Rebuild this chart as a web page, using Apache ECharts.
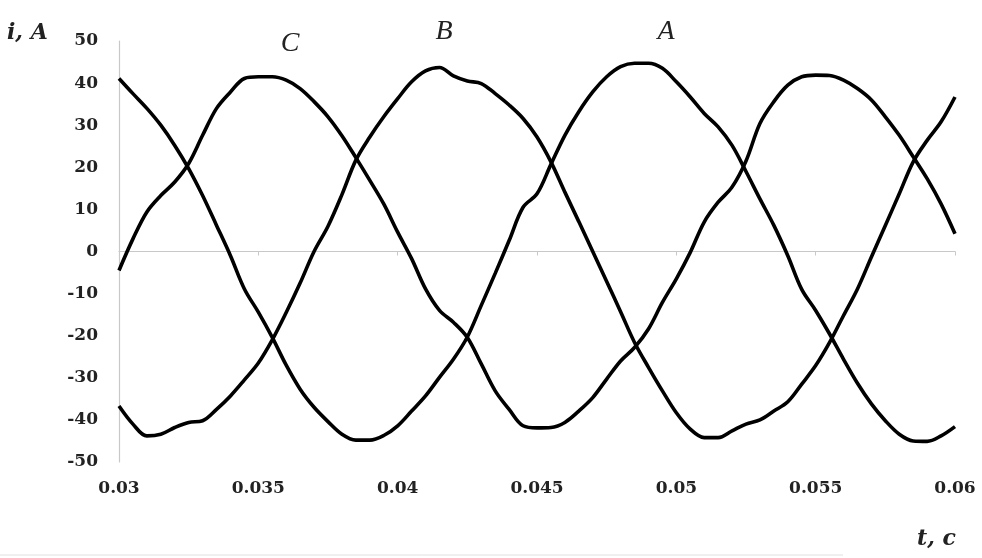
<!DOCTYPE html>
<html>
<head>
<meta charset="utf-8">
<script src="https://cdn.jsdelivr.net/npm/echarts@6/dist/echarts.min.js"></script>
<style>
html,body{margin:0;padding:0;background:#fff;}
#chart{width:982px;height:558px;}
</style>
</head>
<body>
<div id="chart"></div>
<script>
// time, s
var times = [0.0300,0.0305,0.0310,0.0315,0.0320,0.0325,0.0330,0.0335,0.0340,0.0345,
0.0350,0.0355,0.0360,0.0365,0.0370,0.0375,0.0380,0.0385,0.0390,0.0395,
0.0400,0.0405,0.0410,0.0415,0.0420,0.0425,0.0430,0.0435,0.0440,0.0445,
0.0450,0.0455,0.0460,0.0465,0.0470,0.0475,0.0480,0.0485,0.0490,0.0495,
0.0500,0.0505,0.0510,0.0515,0.0520,0.0525,0.0530,0.0535,0.0540,0.0545,
0.0550,0.0555,0.0560,0.0565,0.0570,0.0575,0.0580,0.0585,0.0590,0.0595,0.0600];

var currentA = [41.1,37.5,34,30,25.2,19.7,13.3,6.2,-1,-8.9,
-14.4,-20.4,-27,-32.7,-37,-40.4,-43.4,-44.8,-44.8,-43.7,
-41.4,-37.9,-34.3,-29.9,-25.6,-20.3,-12.8,-5.2,2.6,10.5,
13.7,20.7,27.6,33.2,37.9,41.5,43.9,44.7,44.7,43.5,
40.3,36.7,32.8,29.6,25.2,19,12.5,6.2,-1,-9,
-14,-19.6,-25.6,-31.3,-36.2,-40.2,-43.4,-45,-45.1,-43.8,-41.6];

var currentB = [-36.7,-41,-43.8,-43.4,-41.8,-40.6,-40.2,-37.5,-34.3,-30.5,
-26.5,-21,-14.5,-7.5,0,6,13.5,21.7,27.2,32,
36.3,40.3,42.9,43.7,41.7,40.5,39.9,37.5,34.8,31.6,
27.2,21.3,14.1,7.1,0,-7.1,-14.3,-21.6,-27.5,-33.1,
-38.3,-42.2,-44.2,-44.2,-42.6,-41,-40,-37.9,-35.7,-31.5,
-27.1,-21.6,-15.2,-8.9,-1.3,6.2,13.7,21.3,26.4,30.8,36.7];

var currentC = [-4.5,3,9.4,13.3,16.5,20.9,27.6,34,37.9,41.1,
41.5,41.5,40.7,38.7,35.6,32,27.5,22.3,16.9,11.3,
4.6,-1.7,-8.9,-14,-16.8,-20.4,-26.7,-33.1,-37.5,-41.4,
-41.9,-41.8,-40.6,-37.9,-34.7,-30.3,-26,-22.8,-18.4,-12.1,
-6.5,-0.2,7,11.7,15.3,21.5,30.4,35.6,39.5,41.5,
41.9,41.8,40.7,38.7,36,32,27.6,22.5,17.3,11.3,4.2];

var seriesNames = ['A', 'B', 'C'];
var yTicks = [-50,-40,-30,-20,-10,0,10,20,30,40,50];
var xTicks = [0.03,0.035,0.04,0.045,0.05,0.055,0.06];
var yAxisTitle = 'i, A';
var xAxisTitle = 't, c';

function pairs(vals){ return times.map(function(t,i){ return [t, vals[i]]; }); }

var chart = echarts.init(document.getElementById('chart'), null, {renderer:'canvas'});
var tickFont = '"DejaVu Serif", "Liberation Serif", serif';
var serif = '"Liberation Serif", "DejaVu Serif", serif';
var lineStyle = {color:'#000', width:3.6};

function mkSeries(name, vals){
  return {name:name, type:'line', data:pairs(vals), showSymbol:false, smooth:0.35,
    lineStyle:lineStyle, itemStyle:{color:'#000'}, animation:false, z:3};
}

chart.setOption({
  backgroundColor:'#fff',
  animation:false,
  grid:{left:119, right:27, top:41, bottom:96, containLabel:false},
  xAxis:[{
    type:'value', min:xTicks[0], max:xTicks[xTicks.length-1], interval:0.005, position:'bottom',
    axisLine:{show:true, onZero:true, lineStyle:{color:'#c8c8c8', width:1.2}},
    axisTick:{show:true, length:4, lineStyle:{color:'#c8c8c8'}},
    axisLabel:{show:false}, splitLine:{show:false}
  },{
    type:'value', min:xTicks[0], max:xTicks[xTicks.length-1], interval:0.005, position:'bottom',
    axisLine:{show:false, onZero:false}, axisTick:{show:false}, splitLine:{show:false},
    axisLabel:{show:true, margin:18, fontFamily:tickFont, fontWeight:'bold', fontSize:17, color:'#222',
      formatter:function(v){ return String(+v.toFixed(3)); }}
  }],
  yAxis:{
    type:'value', min:yTicks[0], max:yTicks[yTicks.length-1], interval:10,
    axisLine:{show:true, onZero:false, lineStyle:{color:'#c8c8c8', width:1.2}},
    axisTick:{show:false}, splitLine:{show:false},
    axisLabel:{margin:21, fontFamily:tickFont, fontWeight:'bold', fontSize:17, color:'#222'}
  },
  series:[mkSeries(seriesNames[0], currentA), mkSeries(seriesNames[1], currentB), mkSeries(seriesNames[2], currentC)],
  graphic:[
    {type:'text', left:7, top:22, style:{text:yAxisTitle, font:'italic bold 22px ' + tickFont, fill:'#222'}},
    {type:'text', left:917, top:528, style:{text:xAxisTitle, font:'italic bold 22px ' + tickFont, fill:'#222'}},
    {type:'text', x:290, y:44, style:{text:seriesNames[2], font:'italic 28px ' + serif, fill:'#222', align:'center', verticalAlign:'middle'}},
    {type:'text', x:444, y:32, style:{text:seriesNames[1], font:'italic 28px ' + serif, fill:'#222', align:'center', verticalAlign:'middle'}},
    {type:'text', x:666, y:32, style:{text:seriesNames[0], font:'italic 28px ' + serif, fill:'#222', align:'center', verticalAlign:'middle'}},
    {type:'line', shape:{x1:0, y1:555, x2:843, y2:555}, style:{stroke:'#e0e0e0', lineWidth:1}}
  ]
});
</script>
</body>
</html>
